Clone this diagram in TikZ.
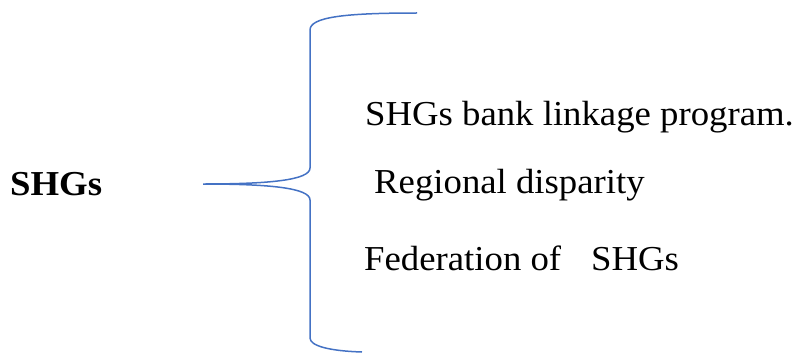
\documentclass[tikz,border=0pt]{standalone}
\usepackage{fontspec}
\setmainfont{Liberation Serif}[FakeStretch=1.05]
\definecolor{braceblue}{RGB}{68,114,196}
\begin{document}
\begin{tikzpicture}[x=1pt,y=-1pt,
  lbl/.style={anchor=base west,inner sep=0pt,font=\fontsize{35}{42}\selectfont},
  brace/.style={draw=braceblue,line width=1.5pt}]
\useasboundingbox (0,0) rectangle (799,353);
\node[lbl,font=\fontsize{35}{42}\selectfont\bfseries] (shg) at (10,195) {SHGs};
\node[lbl] (t1) at (365,125) {SHGs bank linkage program.};
\node[lbl] (t2) at (374,193) {Regional disparity};
\node[lbl] (t3) at (364,270) {Federation of};
\node[lbl] (t4) at (591,270) {SHGs};
\coordinate (top) at (417,13);
\coordinate (tip) at (203,184);
\coordinate (bot) at (362,352);
\draw[brace] (top) .. controls (345,13) and (310,17) .. (310,30)
  -- (310,168) .. controls (310,180) and (270,184) .. (tip)
  .. controls (270,184) and (310,188) .. (310,200)
  -- (310,338) .. controls (310,346) and (330,351) .. (bot);
\end{tikzpicture}
\end{document}
